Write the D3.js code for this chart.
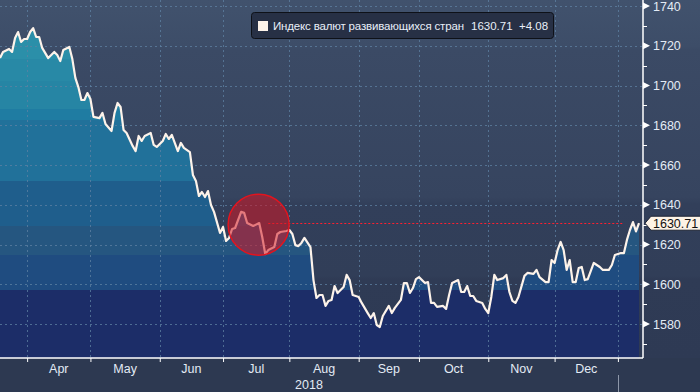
<!DOCTYPE html>
<html>
<head>
<meta charset="utf-8">
<script src="https://cdn.jsdelivr.net/npm/d3@7"></script>
<style>
  html, body { margin: 0; padding: 0; background: #2d3951; }
  svg { display: block; font-family: "Liberation Sans", Arial, sans-serif; }
</style>
</head>
<body>
<div id="chart"></div>
<script>
const seriesName = 'Индекс валют развивающихся стран';
const lastValue = 1630.71;
const lastChange = '+4.08';

// trading sessions counted from the first point (mid-March 2018)
const days = [0, 1, 3, 4, 5, 6, 7, 8, 9, 10, 11, 12, 13, 14, 16, 18, 19, 20, 21, 23,
  24, 25, 26, 27, 28, 29, 30, 31, 33, 34, 35, 37, 38, 39, 40, 41, 42, 44, 45, 46,
  47, 48, 50, 51, 52, 54, 55, 56, 57, 59, 60, 61, 63, 64, 65, 66, 67, 68, 69, 70,
  71, 73, 74, 75, 76, 77, 78, 80, 81, 82, 84, 86, 87, 88, 89, 91, 92, 93, 95, 96,
  97, 98, 99, 100, 101, 103, 104, 105, 106, 107, 108, 109, 110, 111, 112, 114, 115, 116, 117, 119,
  120, 122, 123, 124, 125, 126, 127, 129, 130, 131, 133, 134, 135, 136, 137, 138, 139, 141, 142, 143,
  144, 145, 147, 148, 149, 150, 152, 153, 154, 155, 156, 157, 158, 160, 161, 162, 163, 164, 165, 167,
  168, 169, 170, 171, 172, 174, 175, 177, 178, 179, 181, 182, 183, 184, 185, 186, 187, 188, 189, 190,
  191, 192, 193, 194, 195, 197, 199, 200, 202, 203, 204, 206, 207, 208, 209, 210, 211, 212];
const values = [1713.8, 1716.9, 1718.4, 1716.9, 1723.9, 1726.9, 1721.9, 1723.4, 1723.4, 1726.9,
  1728.9, 1724.4, 1724.4, 1718.9, 1713.8, 1716.9, 1715.3, 1712.3, 1717.9, 1719.4,
  1713.3, 1703.8, 1699.2, 1692.7, 1692.7, 1696.2, 1693.2, 1684.2, 1683.6, 1686.2,
  1680.6, 1677.1, 1686.2, 1691.2, 1689.2, 1677.6, 1676.1, 1669.6, 1667.0, 1674.6,
  1672.1, 1674.6, 1676.1, 1670.1, 1669.1, 1672.1, 1675.6, 1673.1, 1675.1, 1667.0,
  1671.1, 1668.6, 1666.5, 1655.0, 1652.0, 1644.4, 1646.4, 1643.9, 1646.9, 1639.9,
  1636.4, 1625.8, 1628.8, 1621.8, 1623.3, 1627.8, 1628.3, 1636.4, 1635.9, 1630.8,
  1629.3, 1630.8, 1623.8, 1615.2, 1617.2, 1618.7, 1625.3, 1626.3, 1626.8, 1627.3,
  1625.3, 1619.7, 1619.2, 1620.8, 1623.3, 1618.7, 1602.1, 1593.1, 1594.6, 1594.6,
  1589.1, 1591.6, 1592.1, 1599.1, 1595.6, 1598.6, 1604.7, 1602.1, 1594.6, 1593.6,
  1590.6, 1585.5, 1583.0, 1585.5, 1579.5, 1578.5, 1584.0, 1589.1, 1585.5, 1588.1,
  1592.1, 1600.6, 1600.6, 1595.6, 1598.1, 1602.6, 1603.6, 1600.6, 1601.1, 1590.6,
  1590.6, 1588.6, 1589.1, 1587.6, 1594.6, 1600.6, 1602.1, 1596.1, 1596.1, 1599.1,
  1594.1, 1594.1, 1591.6, 1590.6, 1587.6, 1585.5, 1593.6, 1604.7, 1602.1, 1603.1,
  1604.7, 1596.1, 1591.6, 1590.6, 1593.6, 1604.2, 1605.7, 1605.2, 1607.2, 1603.6,
  1601.1, 1601.1, 1612.2, 1610.7, 1617.2, 1621.3, 1617.2, 1607.2, 1612.2, 1601.1,
  1601.1, 1608.2, 1608.7, 1602.1, 1602.6, 1610.7, 1608.7, 1607.2, 1607.2, 1609.7,
  1614.7, 1615.7, 1615.7, 1622.3, 1627.3, 1631.3, 1626.6, 1630.71];

const monthStarts = [9, 30, 53, 74, 96, 119, 139, 162, 184, 205];
const monthLabels = ['Apr', 'May', 'Jun', 'Jul', 'Aug', 'Sep', 'Oct', 'Nov', 'Dec'];
const yearLabel = '2018';
const yearEndDay = 205;
const yTicks = [1580, 1600, 1620, 1640, 1660, 1680, 1700, 1720, 1740];
const yMinorTicks = [1570, 1590, 1610, 1630, 1650, 1670, 1690, 1710, 1730];

// highlighted spot (circle annotation) and reference level
const highlightDay = 85.8, highlightValue = 1630;
const refLineFrom = 89, refLineTo = 206.5;

const W = 700, H = 392;
const plotRight = 643, plotBottom = 358;

const data = days.map((d, i) => ({ day: d, value: values[i] }));

const x = d3.scaleLinear().domain([0, 212]).range([0, 639]);
const y = d3.scaleLinear().domain([1580, 1740]).range([324, 6]);

const svg = d3.select('#chart').append('svg')
    .attr('width', W)
    .attr('height', H);

const defs = svg.append('defs');

// background: slightly lighter at the top
const bg = defs.append('linearGradient')
    .attr('id', 'bg')
    .attr('gradientUnits', 'userSpaceOnUse')
    .attr('x1', 0).attr('y1', 0).attr('x2', 0).attr('y2', plotBottom);
[[0, '#41526d'], [0.13, '#3d4d68'], [0.14, '#3b4a65'], [0.55, '#36445f'],
 [0.57, '#323f5a'], [0.77, '#313e58'], [0.78, '#2f3b55'], [1, '#2e3a54']]
  .forEach(s => bg.append('stop').attr('offset', s[0]).attr('stop-color', s[1]));

// area: horizontal colour bands
const bandStops = [[0, '#2b8fa9'], [59, '#2889a6'], [81, '#2685a4'], [109, '#1f7ca2'],
  [120, '#21719a'], [181, '#1f5e8c'], [226, '#255680'], [255, '#1f4c80'], [290, '#1c2d68']];
const band = defs.append('linearGradient')
    .attr('id', 'bands')
    .attr('gradientUnits', 'userSpaceOnUse')
    .attr('x1', 0).attr('y1', 0).attr('x2', 0).attr('y2', plotBottom);
bandStops.forEach((s, i) => {
    const next = bandStops[i + 1];
    band.append('stop').attr('offset', s[0] / plotBottom).attr('stop-color', s[1]);
    band.append('stop').attr('offset', (next ? next[0] : plotBottom) / plotBottom).attr('stop-color', s[1]);
});

svg.append('rect')
    .attr('width', W).attr('height', plotBottom)
    .attr('fill', 'url(#bg)');
svg.append('rect')
    .attr('y', plotBottom).attr('width', W).attr('height', H - plotBottom)
    .attr('fill', '#2d3951');

// area
svg.append('path')
    .datum(data)
    .attr('fill', 'url(#bands)')
    .attr('d', d3.area()
        .x(d => x(d.day))
        .y0(plotBottom)
        .y1(d => y(d.value)));

// grid
const grid = svg.append('g')
    .attr('stroke', '#5f82a3')
    .attr('stroke-opacity', 0.75)
    .attr('stroke-dasharray', '2,3')
    .attr('stroke-width', 1);
grid.selectAll('line.h')
    .data(yTicks)
    .join('line')
    .attr('x1', 0).attr('x2', plotRight)
    .attr('y1', d => Math.round(y(d)) + 0.5)
    .attr('y2', d => Math.round(y(d)) + 0.5);
grid.selectAll('line.v')
    .data(monthStarts)
    .join('line')
    .attr('x1', d => Math.round(x(d)) + 0.5)
    .attr('x2', d => Math.round(x(d)) + 0.5)
    .attr('y1', 0).attr('y2', plotBottom);

// series line
svg.append('path')
    .datum(data)
    .attr('fill', 'none')
    .attr('stroke', '#fdf3ea')
    .attr('stroke-width', 2.2)
    .attr('stroke-linejoin', 'round')
    .attr('d', d3.line()
        .x(d => x(d.day))
        .y(d => y(d.value)));

// reference level at the last value
svg.append('line')
    .attr('x1', x(refLineFrom)).attr('x2', x(refLineTo))
    .attr('y1', Math.round(y(lastValue)) + 0.5).attr('y2', Math.round(y(lastValue)) + 0.5)
    .attr('stroke', '#ff1f2f')
    .attr('stroke-width', 1.2)
    .attr('stroke-dasharray', '2,2');

// highlight circle
svg.append('circle')
    .attr('cx', x(highlightDay))
    .attr('cy', y(highlightValue))
    .attr('r', 30.5)
    .attr('fill', 'rgba(212,22,34,0.55)')
    .attr('stroke', '#e3141e')
    .attr('stroke-width', 1.5);

// bottom axis
const xAxis = svg.append('g')
    .attr('transform', `translate(0,${plotBottom})`)
    .call(d3.axisBottom(x).tickValues(monthStarts).tickFormat('').tickSize(4).tickSizeOuter(0));
xAxis.select('.domain').remove();
xAxis.selectAll('.tick line').attr('stroke', '#ffffff');
svg.append('line')
    .attr('x1', 0).attr('x2', plotRight)
    .attr('y1', plotBottom).attr('y2', plotBottom)
    .attr('stroke', '#ffffff').attr('stroke-width', 1.5);

svg.append('g')
    .selectAll('text')
    .data(monthLabels)
    .join('text')
    .attr('x', (d, i) => (x(monthStarts[i]) + x(monthStarts[i + 1])) / 2)
    .attr('y', 373)
    .attr('text-anchor', 'middle')
    .attr('fill', '#e3ebf5')
    .style('font-size', '12.5px')
    .text(d => d);

svg.append('text')
    .attr('x', (x(0) + x(yearEndDay)) / 2)
    .attr('y', 389)
    .attr('text-anchor', 'middle')
    .attr('fill', '#e3ebf5')
    .style('font-size', '12.5px')
    .text(yearLabel);

svg.append('line')
    .attr('x1', Math.round(x(yearEndDay)) + 0.5).attr('x2', Math.round(x(yearEndDay)) + 0.5)
    .attr('y1', 375).attr('y2', H)
    .attr('stroke', '#8d97a9').attr('stroke-width', 1);

// right axis
svg.append('line')
    .attr('x1', plotRight).attr('x2', plotRight)
    .attr('y1', 0).attr('y2', plotBottom)
    .attr('stroke', '#ffffff').attr('stroke-width', 1.5);

const yAxis = svg.append('g')
    .attr('transform', `translate(${plotRight},0)`)
    .call(d3.axisRight(y).tickValues(yTicks).tickFormat(d3.format('d')).tickSize(0).tickPadding(10));
yAxis.select('.domain').remove();
yAxis.selectAll('.tick text')
    .attr('fill', '#e3ebf5')
    .style('font-size', '12.5px')
    .style('font-family', '"Liberation Sans", Arial, sans-serif');

svg.append('g')
    .selectAll('path')
    .data(yTicks)
    .join('path')
    .attr('d', d => `M${plotRight},${y(d) - 3.5}L${plotRight + 7},${y(d)}L${plotRight},${y(d) + 3.5}Z`)
    .attr('fill', '#ffffff');

svg.append('g')
    .selectAll('line')
    .data(yMinorTicks)
    .join('line')
    .attr('x1', plotRight).attr('x2', plotRight + 4)
    .attr('y1', d => Math.round(y(d)) + 0.5)
    .attr('y2', d => Math.round(y(d)) + 0.5)
    .attr('stroke', '#ffffff');

// last value tag
const tagY = y(lastValue);
svg.append('path')
    .attr('d', `M${plotRight + 2},${tagY}L${plotRight + 8},${tagY - 7}L${W + 2},${tagY - 7}L${W + 2},${tagY + 7}L${plotRight + 8},${tagY + 7}Z`)
    .attr('fill', '#fdf3e6')
    .attr('stroke', '#1b2233')
    .attr('stroke-width', 1);
svg.append('text')
    .attr('x', plotRight + 10)
    .attr('y', tagY)
    .attr('dy', '0.35em')
    .attr('fill', '#111111')
    .style('font-size', '12.5px')
    .text(d3.format('.2f')(lastValue));

// legend
const legend = svg.append('g');
legend.append('rect')
    .attr('x', 251.5).attr('y', 12.5)
    .attr('width', 302).attr('height', 26)
    .attr('rx', 3)
    .attr('fill', '#273045')
    .attr('stroke', '#0e1118')
    .attr('stroke-width', 1);
legend.append('rect')
    .attr('x', 258).attr('y', 21)
    .attr('width', 10).attr('height', 10)
    .attr('fill', '#fdf3ea');
legend.append('text')
    .attr('x', 273).attr('y', 30)
    .attr('fill', '#e8eef8')
    .style('font-size', '11.5px')
    .attr('textLength', 191)
    .text(seriesName);
legend.append('text')
    .attr('x', 471).attr('y', 30)
    .attr('fill', '#e8eef8')
    .style('font-size', '11.5px')
    .text(d3.format('.2f')(lastValue));
legend.append('text')
    .attr('x', 519).attr('y', 30)
    .attr('fill', '#e8eef8')
    .style('font-size', '11.5px')
    .text(lastChange);
</script>
</body>
</html>
